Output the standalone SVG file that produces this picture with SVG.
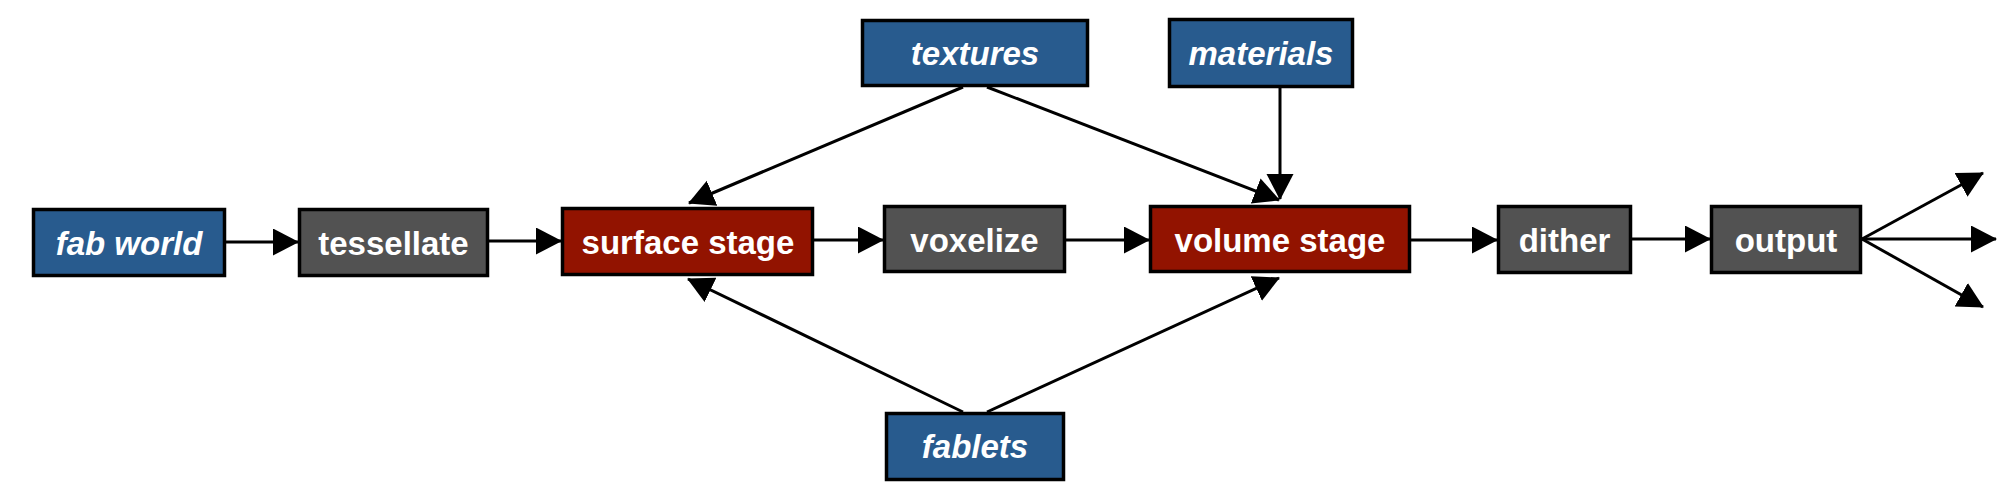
<svg xmlns="http://www.w3.org/2000/svg" width="1999" height="493" viewBox="0 0 1999 493">
<style>
.box{stroke:#000;stroke-width:3.5}
.in{fill:#285b8e}
.proc{fill:#525252}
.stage{fill:#921300}
.lbl{font-family:"Liberation Sans",Arial,sans-serif;font-weight:bold;font-size:33px;fill:#fff;text-anchor:middle}
.it{font-style:italic}
.conn line{stroke:#000;stroke-width:3;fill:none}
</style>
<defs>
<marker id="ah" markerUnits="userSpaceOnUse" markerWidth="27" markerHeight="28" refX="25" refY="13.5" orient="auto">
<path d="M0,0 L26,13.5 L0,27 z" fill="#000"/>
</marker>
</defs>
<rect width="1999" height="493" fill="#fff"/>
<g id="connectors" class="conn">
<line x1="226" y1="242" x2="298" y2="242" marker-end="url(#ah)"/>
<line x1="489" y1="241" x2="561" y2="241" marker-end="url(#ah)"/>
<line x1="814" y1="240" x2="883" y2="240" marker-end="url(#ah)"/>
<line x1="1066" y1="240" x2="1149" y2="240" marker-end="url(#ah)"/>
<line x1="1411" y1="240" x2="1497" y2="240" marker-end="url(#ah)"/>
<line x1="1632" y1="239" x2="1710" y2="239" marker-end="url(#ah)"/>
<line x1="1862" y1="239" x2="1983" y2="173" marker-end="url(#ah)"/>
<line x1="1862" y1="239" x2="1996" y2="239" marker-end="url(#ah)"/>
<line x1="1862" y1="239" x2="1983" y2="307" marker-end="url(#ah)"/>
<line x1="963" y1="87" x2="689" y2="203" marker-end="url(#ah)"/>
<line x1="987" y1="87" x2="1279" y2="200" marker-end="url(#ah)"/>
<line x1="1280" y1="88" x2="1280" y2="199" marker-end="url(#ah)"/>
<line x1="963" y1="412" x2="688" y2="279" marker-end="url(#ah)"/>
<line x1="987" y1="412" x2="1279" y2="278" marker-end="url(#ah)"/>
</g>
<g id="fab-world"><rect class="box in" x="33.5" y="209.5" width="191" height="66"/><text class="lbl it" x="129" y="255">fab world</text></g>
<g id="tessellate"><rect class="box proc" x="299.5" y="209.5" width="188" height="66"/><text class="lbl" x="393.5" y="255">tessellate</text></g>
<g id="surface-stage"><rect class="box stage" x="562.5" y="208.5" width="250" height="66"/><text class="lbl" x="688" y="254">surface stage</text></g>
<g id="voxelize"><rect class="box proc" x="884.5" y="206.5" width="180" height="65"/><text class="lbl" x="974.5" y="252">voxelize</text></g>
<g id="volume-stage"><rect class="box stage" x="1150.5" y="206.5" width="259" height="65"/><text class="lbl" x="1280" y="252">volume stage</text></g>
<g id="dither"><rect class="box proc" x="1498.5" y="206.5" width="132" height="66"/><text class="lbl" x="1564.5" y="252">dither</text></g>
<g id="output"><rect class="box proc" x="1711.5" y="206.5" width="149" height="66"/><text class="lbl" x="1786" y="252">output</text></g>
<g id="textures"><rect class="box in" x="862.5" y="20.5" width="225" height="65"/><text class="lbl it" x="975" y="65">textures</text></g>
<g id="materials"><rect class="box in" x="1169.5" y="19.5" width="183" height="67"/><text class="lbl it" x="1261" y="65">materials</text></g>
<g id="fablets"><rect class="box in" x="886.5" y="413.5" width="177" height="66"/><text class="lbl it" x="975" y="458">fablets</text></g>
</svg>
